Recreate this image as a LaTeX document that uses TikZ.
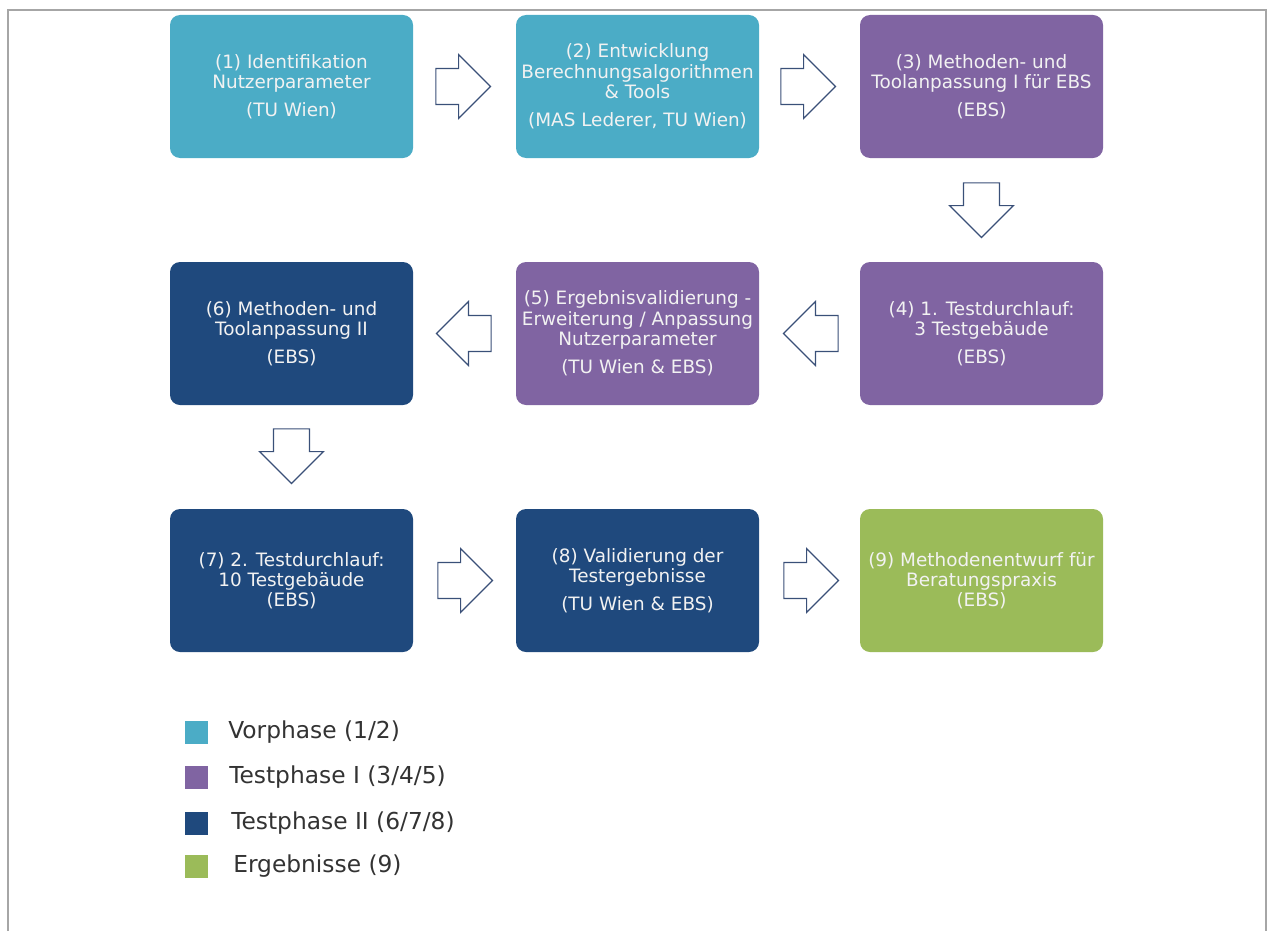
\documentclass[tikz,border=0pt]{standalone}
\usepackage{fontspec}
\setmainfont{DejaVu Sans}
\usetikzlibrary{shapes.arrows,calc}
\definecolor{vorc}{HTML}{4BACC6}
\definecolor{tonec}{HTML}{8064A2}
\definecolor{ttwoc}{HTML}{1F497D}
\definecolor{ergc}{HTML}{9BBB59}
\definecolor{arrowc}{HTML}{3A5078}
\definecolor{framec}{HTML}{A6A6A6}
\definecolor{boxtext}{HTML}{F2F2F2}
\begin{document}
\begin{tikzpicture}[x=0.75pt,y=-0.75pt,
  phase/.style={rounded corners=7.5pt, minimum width=182.25pt, minimum height=107.25pt,
    inner sep=1pt, align=center, text=boxtext, font=\fontsize{13.8}{15.2}\selectfont},
  barrowbase/.style={single arrow, draw=arrowc, fill=white, line width=0.9pt,
    minimum height=41pt, single arrow head extend=10.5pt, anchor=tail},
  harrow/.style={barrowbase, inner xsep=0pt, inner ysep=13pt},
  varrow/.style={barrowbase, inner xsep=13pt, inner ysep=0pt, shape border rotate=270},
  legsq/.style={minimum size=17.25pt, inner sep=0pt},
  legtxt/.style={anchor=west, font=\fontsize{17.5}{20}\selectfont, text=black!80, inner sep=0pt}]
\useasboundingbox (0,0) rectangle (1269,931);
\draw[framec, line width=1.8pt] (8,931) -- (8,10) -- (1266,10) -- (1266,931);

% row 1
\node[phase, fill=vorc] (b1) at (291.5,86.5) {(1) Identifikation\\Nutzerparameter\\[6pt](TU Wien)};
\node[phase, fill=vorc] (b2) at (637.5,86.5) {(2) Entwicklung\\Berechnungsalgorithmen\\\& Tools\\[6pt](MAS Lederer, TU Wien)};
\node[phase, fill=tonec] (b3) at (981.5,86.5) {(3) Methoden- und\\Toolanpassung I für EBS\\[6pt](EBS)};
% row 2
\node[phase, fill=tonec] (b4) at (981.5,333.5) {(4) 1. Testdurchlauf:\\3 Testgebäude\\[6pt](EBS)};
\node[phase, fill=tonec] (b5) at (637.5,333.5) {(5) Ergebnisvalidierung -\\Erweiterung / Anpassung\\Nutzerparameter\\[6pt](TU Wien \& EBS)};
\node[phase, fill=ttwoc] (b6) at (291.5,333.5) {(6) Methoden- und\\Toolanpassung II\\[6pt](EBS)};
% row 3
\node[phase, fill=ttwoc] (b7) at (291.5,580.5) {(7) 2. Testdurchlauf:\\10 Testgebäude\\(EBS)};
\node[phase, fill=ttwoc] (b8) at (637.5,580.5) {(8) Validierung der\\Testergebnisse\\[6pt](TU Wien \& EBS)};
\node[phase, fill=ergc] (b9) at (981.5,580.5) {(9) Methodenentwurf für\\Beratungspraxis\\(EBS)};

% block arrows
\node[harrow] (a12) at ($(b1.east)+(22,0)$) {};
\node[harrow] (a23) at ($(b2.east)+(21,0)$) {};
\node[varrow] (a34) at ($(b3.south)+(0,24)$) {};
\node[harrow, shape border rotate=180] (a45) at ($(b4.west)+(-21,0)$) {};
\node[harrow, shape border rotate=180] (a56) at ($(b5.west)+(-24,0)$) {};
\node[varrow] (a67) at ($(b6.south)+(0,23)$) {};
\node[harrow] (a78) at ($(b7.east)+(24,0)$) {};
\node[harrow] (a89) at ($(b8.east)+(24,0)$) {};

% legend
\node[legsq, fill=vorc] (s1) at (196.5,732.5) {};
\node[legsq, fill=tonec] (s2) at (196.5,777.5) {};
\node[legsq, fill=ttwoc] (s3) at (196.5,823.5) {};
\node[legsq, fill=ergc] (s4) at (196.5,866) {};
\node[legtxt] (l1) at (228,732.5) {Vorphase (1/2)};
\node[legtxt] (l2) at (229,777.5) {Testphase I (3/4/5)};
\node[legtxt] (l3) at (231,823.5) {Testphase II (6/7/8)};
\node[legtxt] (l4) at (233,866) {Ergebnisse (9)};
\end{tikzpicture}
\end{document}
